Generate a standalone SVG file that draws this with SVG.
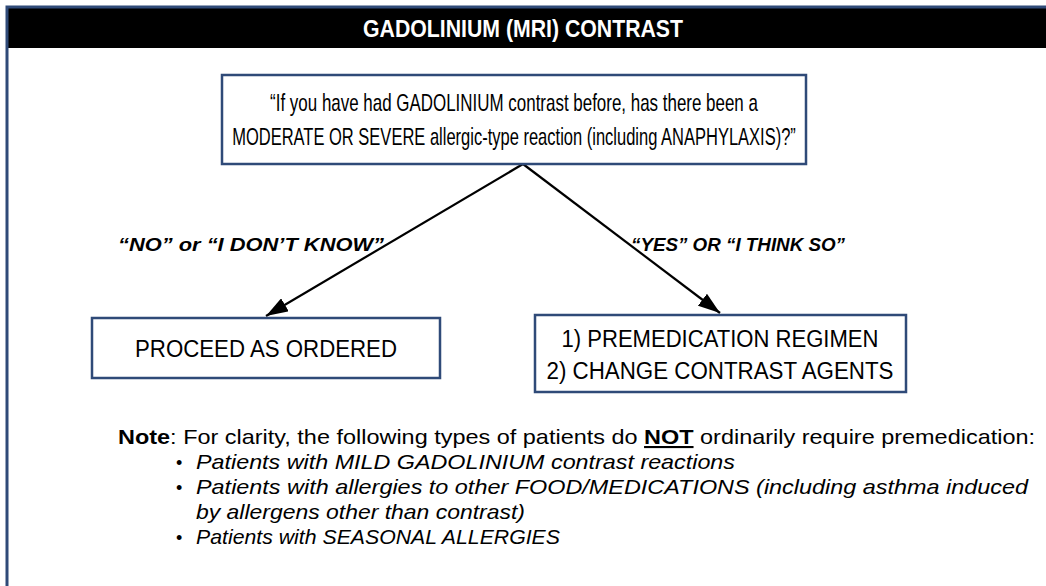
<svg xmlns="http://www.w3.org/2000/svg" width="1046" height="586" viewBox="0 0 1046 586">
<style>
.box{fill:#fff;stroke:#2f4a78;stroke-width:2.5}
.t{font-family:"Liberation Sans",Arial,sans-serif;fill:#000}
.lbl{font-family:"Liberation Sans",Arial,sans-serif;font-weight:bold;font-style:italic;font-size:19px}
.conn{stroke:#000;stroke-width:2.2;fill:none}
</style>
<defs>
<marker id="ah" viewBox="0 0 10 10" refX="10" refY="5" markerWidth="22" markerHeight="15" markerUnits="userSpaceOnUse" orient="auto" preserveAspectRatio="none">
<path d="M0,0 L10,5 L0,10 z" fill="#000"/>
</marker>
</defs>
<rect width="1046" height="586" fill="#fff"/>
<g id="frame">
<rect x="7" y="7" width="1039" height="41" fill="#000"/>
<path d="M7,586 V7 H1046" fill="none" stroke="#2f4a78" stroke-width="3"/>
<text x="523" y="37" text-anchor="middle" font-family="Liberation Sans, Arial, sans-serif" font-size="24" font-weight="bold" fill="#fff" textLength="320" lengthAdjust="spacingAndGlyphs">GADOLINIUM (MRI) CONTRAST</text>
</g>
<g id="connectors">
<line class="conn" x1="523" y1="164" x2="266" y2="316" marker-end="url(#ah)"/>
<line class="conn" x1="523" y1="164" x2="720" y2="313" marker-end="url(#ah)"/>
<text class="lbl" x="118" y="251" textLength="266" lengthAdjust="spacingAndGlyphs">“NO” or “I DON’T KNOW”</text>
<text class="lbl" x="631" y="251" textLength="214" lengthAdjust="spacingAndGlyphs">“YES” OR “I THINK SO”</text>
</g>
<g id="question">
<rect class="box" x="222" y="75" width="584" height="89"/>
<text class="t" font-size="24" transform="translate(514,111) scale(0.69,1)" x="0" y="0" text-anchor="middle" textLength="707" lengthAdjust="spacingAndGlyphs">“If you have had GADOLINIUM contrast before, has there been a</text>
<text class="t" font-size="24" transform="translate(514,145) scale(0.69,1)" x="0" y="0" text-anchor="middle" textLength="817" lengthAdjust="spacingAndGlyphs">MODERATE OR SEVERE allergic-type reaction (including ANAPHYLAXIS)?”</text>
</g>
<g id="proceed">
<rect class="box" x="92" y="318" width="348" height="60"/>
<text class="t" font-size="23" x="266" y="357" text-anchor="middle" textLength="262" lengthAdjust="spacingAndGlyphs">PROCEED AS ORDERED</text>
</g>
<g id="premed">
<rect class="box" x="535" y="315" width="371" height="77"/>
<text class="t" font-size="23" x="720" y="347" text-anchor="middle" textLength="317" lengthAdjust="spacingAndGlyphs">1) PREMEDICATION REGIMEN</text>
<text class="t" font-size="23" x="720" y="379" text-anchor="middle" textLength="347" lengthAdjust="spacingAndGlyphs">2) CHANGE CONTRAST AGENTS</text>
</g>
<g id="note">
<text class="t" font-size="21" x="118" y="444" textLength="917" lengthAdjust="spacingAndGlyphs"><tspan font-weight="bold">Note</tspan>: For clarity, the following types of patients do <tspan font-weight="bold" text-decoration="underline">NOT</tspan> ordinarily require premedication:</text>
<g class="t" font-size="21" font-style="italic">
<text x="176" y="469" font-style="normal" font-size="18">•</text>
<text x="196" y="469" textLength="539" lengthAdjust="spacingAndGlyphs">Patients with MILD GADOLINIUM contrast reactions</text>
<text x="176" y="494" font-style="normal" font-size="18">•</text>
<text x="196" y="494" textLength="832" lengthAdjust="spacingAndGlyphs">Patients with allergies to other FOOD/MEDICATIONS (including asthma induced</text>
<text x="196" y="519" textLength="329" lengthAdjust="spacingAndGlyphs">by allergens other than contrast)</text>
<text x="176" y="544" font-style="normal" font-size="18">•</text>
<text x="196" y="544" textLength="364" lengthAdjust="spacingAndGlyphs">Patients with SEASONAL ALLERGIES</text>
</g>
</g>
</svg>
